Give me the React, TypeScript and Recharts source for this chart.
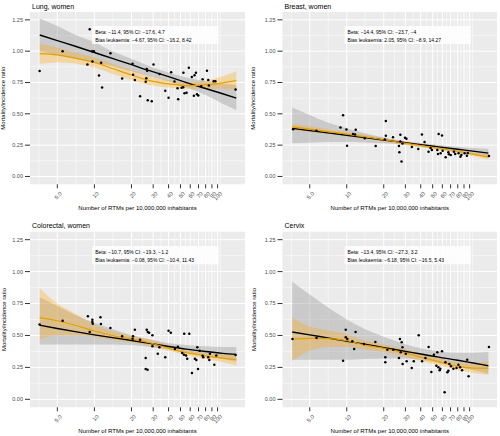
import React from 'react';
import { ComposedChart, Area, Line, Scatter, XAxis, YAxis, CartesianGrid, ReferenceArea } from 'recharts';

const xTicks = [5, 10, 20, 30, 40, 50, 60, 70, 80, 90, 100];
const xMinor = [3.54, 7.07, 14.1, 24.5, 34.6, 44.7, 54.8, 64.8, 74.8, 84.9, 94.9, 105.4];
const yTicks = [0, 0.25, 0.5, 0.75, 1, 1.25];
const yMinor = [0.125, 0.375, 0.625, 0.875, 1.125];

// x positions where the fitted curves were read
const fitX = [3.6, 5, 7, 10, 14, 20, 28, 40, 56, 80, 110, 142];

// Lung, women
const lungX = [3.59, 5.52, 9.16, 9.6, 9.9, 9.63, 8.77, 11.34, 10.9, 11.55, 13.5, 16.8, 20.4, 20.6, 21.3, 23.5, 26.6, 26.8, 26.4, 26.1, 27.1, 29.2, 30.2, 33.8, 37.6, 40, 42, 44.7, 47.3, 47.9, 51, 52.6, 52.8, 53.9, 56, 58.4, 61.8, 64.2, 65, 66.7, 68, 69.7, 73.6, 75.6, 82, 85, 84, 93, 96, 140];
const lungY = [0.842, 1.0, 1.174, 1.0, 1.0, 0.918, 0.894, 0.907, 0.805, 0.71, 0.984, 0.781, 0.899, 0.812, 0.77, 0.641, 0.858, 0.844, 0.783, 0.755, 0.609, 0.601, 0.894, 0.818, 0.684, 0.628, 0.831, 0.757, 0.704, 0.617, 0.707, 0.712, 0.828, 0.665, 0.668, 0.868, 0.794, 0.644, 0.807, 0.828, 0.657, 0.646, 0.72, 0.775, 0.844, 0.725, 0.77, 0.76, 0.76, 0.694];
const lungFit = [1.129, 1.084, 1.039, 0.989, 0.942, 0.892, 0.844, 0.797, 0.749, 0.702, 0.66, 0.625];
const lungFitLo = [1.0, 0.97, 0.94, 0.91, 0.88, 0.84, 0.8, 0.76, 0.71, 0.65, 0.58, 0.53];
const lungFitHi = [1.26, 1.2, 1.13, 1.07, 1.0, 0.94, 0.88, 0.83, 0.79, 0.76, 0.74, 0.73];
const lungLoess = [0.981, 0.971, 0.944, 0.91, 0.862, 0.81, 0.765, 0.739, 0.725, 0.731, 0.747, 0.765];
const lungLoessLo = [0.9, 0.91, 0.9, 0.87, 0.82, 0.77, 0.73, 0.71, 0.7, 0.7, 0.7, 0.69];
const lungLoessHi = [1.06, 1.03, 0.99, 0.95, 0.9, 0.85, 0.8, 0.77, 0.75, 0.765, 0.8, 0.84];

// Breast, women
const breastX = [3.66, 5.67, 9.33, 8.89, 9.94, 10.06, 11.25, 11.83, 11.68, 14.0, 17.2, 20.8, 20.8, 20.4, 23.8, 26.6, 26.8, 27.3, 27.3, 28.4, 27.9, 29.8, 30.6, 33.9, 38.2, 40.9, 43.0, 46.3, 48.1, 49.3, 54.6, 55.9, 55.3, 58.1, 59.6, 60.3, 63.8, 67.1, 67.8, 70.2, 74.5, 76.3, 81.3, 84.2, 85.7, 91, 95, 96.6, 143.5];
const breastY = [0.377, 0.364, 0.488, 0.391, 0.375, 0.245, 0.338, 0.372, 0.335, 0.304, 0.243, 0.443, 0.324, 0.296, 0.312, 0.243, 0.193, 0.332, 0.28, 0.264, 0.119, 0.309, 0.301, 0.235, 0.219, 0.335, 0.275, 0.198, 0.227, 0.211, 0.211, 0.338, 0.18, 0.185, 0.327, 0.206, 0.153, 0.193, 0.177, 0.172, 0.198, 0.18, 0.185, 0.158, 0.172, 0.185, 0.166, 0.188, 0.164];
const breastFit = [0.384, 0.366, 0.348, 0.329, 0.311, 0.291, 0.273, 0.254, 0.236, 0.217, 0.2, 0.186];
const breastFitLo = [0.265, 0.27, 0.275, 0.275, 0.272, 0.265, 0.255, 0.238, 0.215, 0.192, 0.17, 0.155];
const breastFitHi = [0.55, 0.49, 0.43, 0.385, 0.345, 0.31, 0.285, 0.268, 0.252, 0.238, 0.228, 0.222];
const breastLoess = [0.396, 0.378, 0.358, 0.338, 0.316, 0.293, 0.27, 0.247, 0.225, 0.2, 0.175, 0.155];
const breastLoessLo = [0.37, 0.355, 0.34, 0.32, 0.3, 0.278, 0.256, 0.234, 0.212, 0.187, 0.16, 0.135];
const breastLoessHi = [0.42, 0.4, 0.377, 0.355, 0.332, 0.308, 0.284, 0.26, 0.238, 0.213, 0.19, 0.175];

// Colorectal, women
const crX = [3.59, 5.52, 8.85, 9.63, 9.63, 9.7, 9.16, 11.2, 11.3, 13.5, 16.8, 20.6, 20.4, 21.3, 23.5, 26.6, 27.1, 27.8, 29.6, 26.1, 26.1, 27.0, 32.7, 29.6, 33.7, 37.6, 40, 41.7, 45, 47.6, 53.6, 58.9, 51.7, 53.3, 55.4, 56.7, 61.9, 65.4, 67.3, 68.5, 69.4, 71.5, 75.6, 76.5, 84, 85.7, 86.7, 94.1, 97.6, 140];
const crY = [0.585, 0.616, 0.65, 0.623, 0.605, 0.592, 0.527, 0.642, 0.59, 0.558, 0.493, 0.493, 0.475, 0.545, 0.467, 0.545, 0.527, 0.522, 0.501, 0.323, 0.237, 0.232, 0.357, 0.415, 0.407, 0.329, 0.537, 0.522, 0.394, 0.412, 0.514, 0.514, 0.363, 0.349, 0.344, 0.318, 0.206, 0.318, 0.308, 0.407, 0.237, 0.381, 0.341, 0.329, 0.329, 0.308, 0.357, 0.271, 0.344, 0.347];
const crFit = [0.58, 0.555, 0.53, 0.505, 0.483, 0.461, 0.438, 0.414, 0.393, 0.374, 0.36, 0.352];
const crFitLo = [0.43, 0.43, 0.43, 0.43, 0.43, 0.425, 0.41, 0.39, 0.365, 0.34, 0.315, 0.295];
const crFitHi = [0.8, 0.73, 0.66, 0.6, 0.55, 0.5, 0.47, 0.44, 0.425, 0.415, 0.41, 0.41];
const crLoess = [0.64, 0.615, 0.58, 0.535, 0.5, 0.472, 0.443, 0.4, 0.365, 0.34, 0.322, 0.31];
const crLoessLo = [0.47, 0.5, 0.5, 0.49, 0.465, 0.445, 0.42, 0.38, 0.345, 0.315, 0.29, 0.265];
const crLoessHi = [0.87, 0.75, 0.67, 0.585, 0.535, 0.5, 0.47, 0.425, 0.385, 0.365, 0.355, 0.355];

// Cervix
const cxX = [3.62, 5.67, 9.33, 9.81, 9.81, 10.1, 11.1, 11.5, 11.8, 13.8, 17.1, 20.6, 20.6, 21.4, 23.9, 26.6, 27.1, 27.5, 28.0, 28.4, 28.5, 30.2, 30.7, 33.8, 35.1, 38.5, 41, 43.7, 46.4, 48.8, 51.2, 53.6, 54.6, 55.7, 57, 57.7, 59.6, 62.6, 63.5, 65.9, 67.2, 68.4, 70.5, 73.8, 78.2, 81.1, 83.6, 86.8, 95.6, 98.1, 143.5];
const cxY = [0.472, 0.48, 0.302, 0.545, 0.486, 0.472, 0.454, 0.394, 0.527, 0.433, 0.449, 0.329, 0.29, 0.388, 0.388, 0.323, 0.472, 0.368, 0.446, 0.407, 0.276, 0.357, 0.298, 0.245, 0.298, 0.501, 0.298, 0.323, 0.41, 0.214, 0.349, 0.263, 0.368, 0.251, 0.227, 0.24, 0.376, 0.055, 0.29, 0.211, 0.224, 0.276, 0.258, 0.24, 0.245, 0.271, 0.251, 0.227, 0.31, 0.18, 0.41];
const cxFit = [0.527, 0.505, 0.48, 0.455, 0.432, 0.405, 0.38, 0.355, 0.33, 0.306, 0.282, 0.263];
const cxFitLo = [0.31, 0.31, 0.31, 0.31, 0.315, 0.32, 0.32, 0.31, 0.285, 0.255, 0.225, 0.2];
const cxFitHi = [0.92, 0.82, 0.72, 0.625, 0.55, 0.49, 0.44, 0.4, 0.375, 0.365, 0.365, 0.37];
const cxLoess = [0.472, 0.477, 0.476, 0.46, 0.425, 0.4, 0.37, 0.33, 0.295, 0.258, 0.245, 0.245];
const cxLoessLo = [0.3, 0.38, 0.41, 0.41, 0.39, 0.37, 0.34, 0.3, 0.265, 0.23, 0.205, 0.19];
const cxLoessHi = [0.64, 0.57, 0.54, 0.51, 0.46, 0.43, 0.4, 0.36, 0.325, 0.29, 0.285, 0.3];

const X_TITLE = 'Number of RTMs per 10,000,000 inhabitants';
const Y_TITLE = 'Mortality/incidence ratio';

const XTick = (props: any) => {
  const { x, y, payload } = props;
  const label = payload.value === 5 ? '5.0' : String(payload.value);
  const tx = x + 2;
  return (
    <g>
      <text x={tx} y={y} transform={`rotate(-45, ${tx}, ${y})`} textAnchor="end"
        dominantBaseline="hanging" fontSize={5.6} fill="#4D4D4D" stroke="none">{label}</text>
    </g>
  );
};

const Dot = (props: any) => <circle cx={props.cx} cy={props.cy} r={1.25} fill="#000" />;

interface PanelProps {
  title: string;
  left: number;
  top: number;
  plotTop: number;
  plotBottom: number;
  yAxisWidth: number;
  rightMargin: number;
  xs: number[];
  ys: number[];
  fit: number[]; fitLo: number[]; fitHi: number[];
  loess: number[]; loessLo: number[]; loessHi: number[];
  beta: string;
  bias: string;
}

const Panel: React.FC<PanelProps> = (p) => {
  const curve = fitX.map((x, i) => ({
    x,
    fit: p.fit[i],
    fitBand: [p.fitLo[i], p.fitHi[i]],
    loess: p.loess[i],
    loessBand: [p.loessLo[i], p.loessHi[i]],
  }));
  const pts = p.xs.map((x, i) => ({ x, y: p.ys[i] }));
  const xAxisH = 20;
  const plotLeft = p.yAxisWidth;
  const plotRight = 250 - p.rightMargin;
  const midY = (p.plotTop + p.plotBottom) / 2;

  return (
    <div style={{ position: 'absolute', left: p.left, top: p.top, width: 250, height: 218 }}>
      <ComposedChart width={250} height={218} data={curve}
        margin={{ top: p.plotTop, right: p.rightMargin, bottom: 218 - p.plotBottom - xAxisH, left: 0 }}>
        <CartesianGrid fill="#EBEBEB" stroke="#FFFFFF" strokeWidth={0.5}
          horizontalValues={yMinor} verticalValues={xMinor} />
        <CartesianGrid stroke="#FFFFFF" strokeWidth={1} fill="none"
          horizontalValues={yTicks} verticalValues={xTicks} />
        <XAxis dataKey="x" type="number" scale="log" domain={[3, 167]} allowDataOverflow
          ticks={xTicks} interval={0} axisLine={false} tickLine={{ stroke: '#333333' }}
          tickSize={4} tickMargin={3} height={xAxisH} tick={<XTick />} />
        <YAxis type="number" domain={[-0.0625, 1.3125]} allowDataOverflow ticks={yTicks}
          interval={0} width={p.yAxisWidth} axisLine={false} tickLine={{ stroke: '#333333' }}
          tickSize={5} tickMargin={2} tick={{ fontSize: 5.5, fill: '#4D4D4D' }}
          tickFormatter={(v: number) => v.toFixed(2)} />
        <Area dataKey="fitBand" type="monotone" stroke="none" fill="#999999" fillOpacity={0.4}
          isAnimationActive={false} />
        <Area dataKey="loessBand" type="monotone" stroke="none" fill="#FFA500" fillOpacity={0.3}
          isAnimationActive={false} />
        <Scatter data={pts} dataKey="y" shape={Dot} isAnimationActive={false} />
        <Line dataKey="fit" type="monotone" stroke="#000000" strokeWidth={1.4} dot={false}
          isAnimationActive={false} />
        <Line dataKey="loess" type="monotone" stroke="#E69F00" strokeWidth={1.2} dot={false}
          isAnimationActive={false} />
        <ReferenceArea x1={9.6} x2={102} y1={1.057} y2={1.2} fill="#FFFFFF" fillOpacity={0.85}
          stroke="none" ifOverflow="visible"
          label={(lp: any) => {
            const vb = lp.viewBox || {};
            return (
              <g>
                <text x={vb.x + 3} y={vb.y + vb.height * 0.32} dominantBaseline="central"
                  fontSize={5} fill="#000">{p.beta}</text>
                <text x={vb.x + 3} y={vb.y + vb.height * 0.79} dominantBaseline="central"
                  fontSize={5} fill="#000">{p.bias}</text>
              </g>
            );
          }} />
      </ComposedChart>
      <svg width={250} height={218} style={{ position: 'absolute', left: 0, top: 0, pointerEvents: 'none' }}>
        <text x={plotLeft + 2} y={p.plotTop - 3.5} fontSize={7} fill="#000">{p.title}</text>
        <text x={5.5} y={midY} transform={`rotate(-90, 5.5, ${midY})`} textAnchor="middle"
          fontSize={6} fill="#000">{Y_TITLE}</text>
        <text x={(plotLeft + plotRight) / 2} y={p.plotBottom + 26} textAnchor="middle"
          fontSize={6} fill="#000">{X_TITLE}</text>
      </svg>
    </div>
  );
};

export default function App() {
  return (
    <div style={{ position: 'absolute', left: 0, top: 0, width: 500, height: 436, background: '#FFFFFF',
      fontFamily: "'Liberation Sans', Arial, sans-serif" }}>
      <Panel title="Lung, women" left={0} top={0} plotTop={12} plotBottom={184.3} yAxisWidth={30} rightMargin={5}
        xs={lungX} ys={lungY} fit={lungFit} fitLo={lungFitLo} fitHi={lungFitHi}
        loess={lungLoess} loessLo={lungLoessLo} loessHi={lungLoessHi}
        beta="Beta: −11.4, 95% CI: −17.6, 4.7" bias="Bias leukaemia: −4.67, 95% CI: −16.2, 8.42" />
      <Panel title="Breast, women" left={250} top={0} plotTop={12} plotBottom={184.3} yAxisWidth={32.5} rightMargin={3}
        xs={breastX} ys={breastY} fit={breastFit} fitLo={breastFitLo} fitHi={breastFitHi}
        loess={breastLoess} loessLo={breastLoessLo} loessHi={breastLoessHi}
        beta="Beta: −14.4, 95% CI: −23.7, −4" bias="Bias leukaemia: 2.05, 95% CI: −8.9, 14.27" />
      <Panel title="Colorectal, women" left={0} top={218} plotTop={13.7} plotBottom={189.3} yAxisWidth={30} rightMargin={5}
        xs={crX} ys={crY} fit={crFit} fitLo={crFitLo} fitHi={crFitHi}
        loess={crLoess} loessLo={crLoessLo} loessHi={crLoessHi}
        beta="Beta: −10.7, 95% CI: −19.3, −1.2" bias="Bias leukaemia: −0.08, 95% CI: −10.4, 11.43" />
      <Panel title="Cervix" left={250} top={218} plotTop={13.7} plotBottom={189.3} yAxisWidth={32.5} rightMargin={3}
        xs={cxX} ys={cxY} fit={cxFit} fitLo={cxFitLo} fitHi={cxFitHi}
        loess={cxLoess} loessLo={cxLoessLo} loessHi={cxLoessHi}
        beta="Beta: −13.4, 95% CI: −27.3, 3.2" bias="Bias leukaemia: −6.18, 95% CI: −16.5, 5.43" />
    </div>
  );
}
